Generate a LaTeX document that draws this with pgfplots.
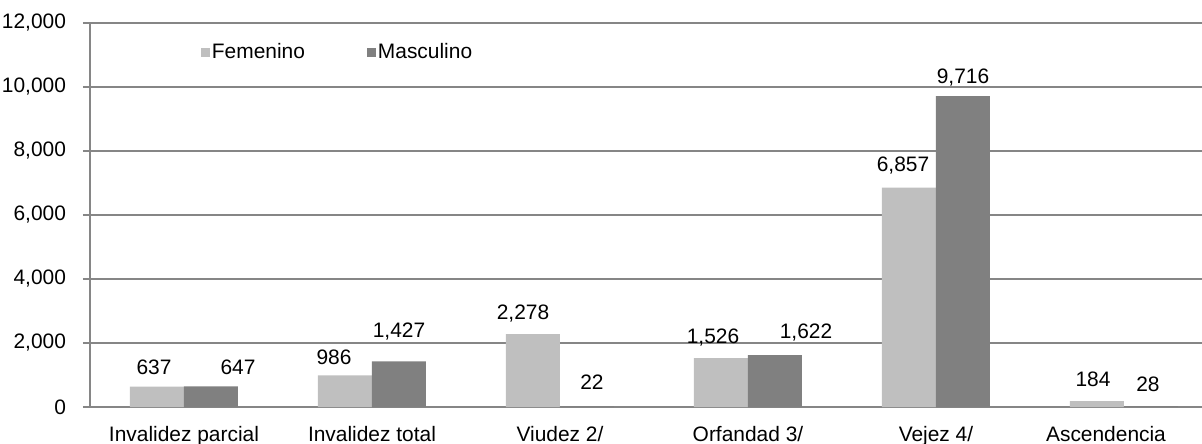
\documentclass[border=0pt]{standalone}
\usepackage{pgfplots}
\pgfplotsset{compat=1.18}
\usepackage{fontspec}
\setmainfont{Liberation Sans}
\definecolor{femc}{RGB}{191,191,191}
\definecolor{masc}{RGB}{128,128,128}
\definecolor{gridc}{RGB}{134,134,134}
% x = category, y = value, dx/dy = label offset (bp) as placed in the original
\begin{document}
\begin{tikzpicture}
\begin{axis}[
  at={(0,0)}, anchor=south west,
  scale only axis,
  width=564bp, height=192bp,
  font=\fontsize{10.5}{12}\selectfont,
  /pgf/number format/assume math mode=true,
  ybar=0pt, bar width=27bp,
  xmin=-0.5, xmax=5.5, ymin=0, ymax=12000,
  axis lines*=left,
  axis line style={gridc, line width=1bp},
  ymajorgrids, grid style={gridc, line width=1bp},
  ytick={0,2000,...,12000},
  scaled y ticks=false,
  yticklabel style={/pgf/number format/.cd, fixed, 1000 sep={,}, /tikz/.cd, xshift=-5bp},
  ytick style={gridc, line width=1bp},
  tick align=outside, major tick length=3.5bp,
  xtick={0,...,5},
  xticklabels={Invalidez parcial, Invalidez total, Viudez 2/, Orfandad 3/, Vejez 4/, \hspace*{-18bp}Ascendencia},
  x tick style={draw=none},
  minor xtick={-0.5,0.5,1.5,2.5,3.5,4.5,5.5},
  minor tick length=3bp,
  minor x tick style={gridc, line width=1bp},
  xticklabel style={yshift=-2.5bp},
  visualization depends on={\thisrow{dx} \as \dx},
  visualization depends on={\thisrow{dy} \as \dy},
  nodes near coords,
  nodes near coords style={/pgf/number format/.cd, fixed, 1000 sep={,}, /tikz/.cd,
    anchor=center, xshift=\dx bp, yshift=\dy bp, text=black},
  legend columns=2,
  legend style={draw=none, fill=none, at={(rel axis cs:0.0927,0.924)}, anchor=west,
    nodes={inner sep=1bp}, /tikz/every even column/.append style={column sep=30bp}},
  legend image code/.code={\fill[#1] (0bp,-2.25bp) rectangle (4.5bp,2.25bp);},
]
\addplot[fill=femc, draw=none] table {
x y dx dy
0 637 -1.5 9.5
1 986 -5.5 9
2 2278 -5 10.5
3 1526 -4 10.5
4 6857 -3 11
5 184 -2 11
};
\addplot[fill=masc, draw=none] table {
x y dx dy
0 647 13.5 9.5
1 1427 0 15
2 22 2.5 12
3 1622 15.5 11.5
4 9716 0 9.5
5 28 -1.5 11
};
\legend{Femenino, Masculino}
\end{axis}
\pgfresetboundingbox
\path[use as bounding box] (-45bp,-18.5bp) rectangle (556bp,203.5bp);
\end{tikzpicture}
\end{document}
